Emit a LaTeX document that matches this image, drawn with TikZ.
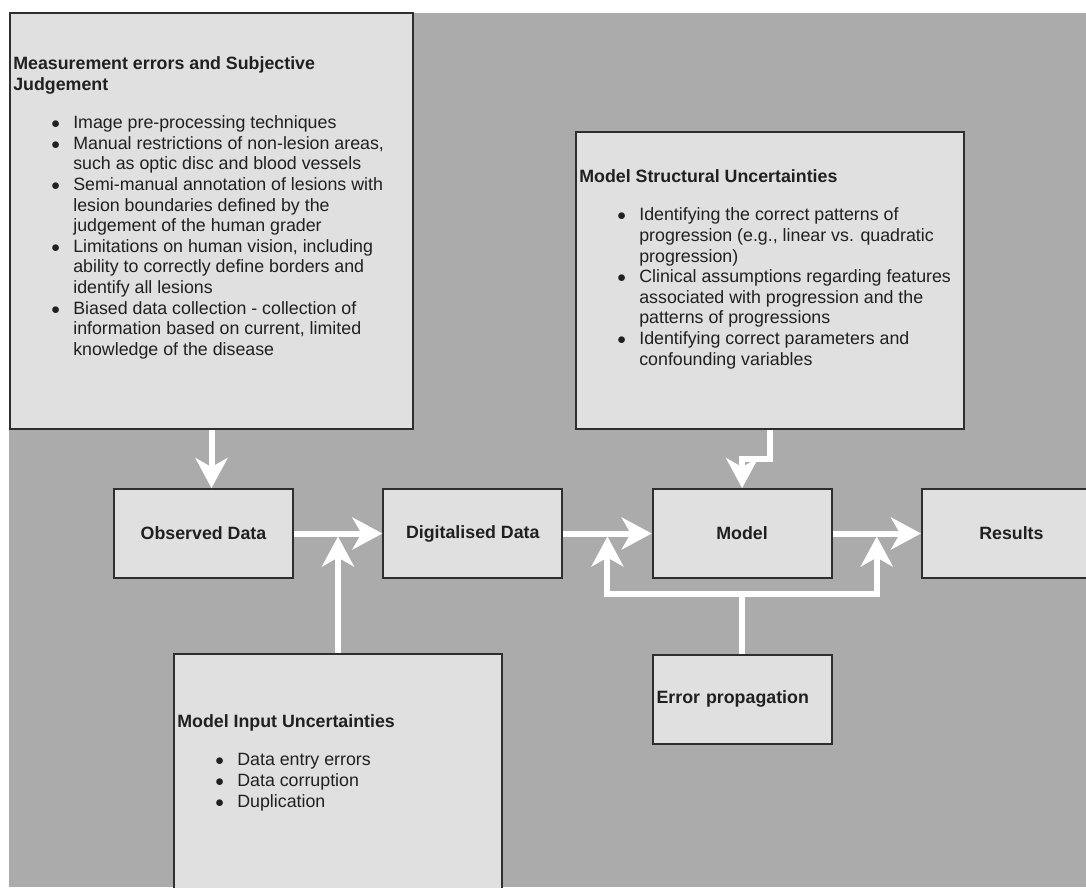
\documentclass[tikz,border=0pt]{standalone}
\usepackage{fontspec}
\setmainfont{Liberation Sans}
\usetikzlibrary{positioning,calc,arrows.meta}
\definecolor{bggray}{HTML}{ABABAB}
\definecolor{boxfill}{HTML}{E0E0E0}
\definecolor{boxline}{HTML}{2E2E2E}
\definecolor{inktext}{HTML}{202020}
\newcommand{\dotmark}{$\bullet$}

\begin{document}
\begin{tikzpicture}[x=1pt, y=1pt, node distance=88.5pt,
      box/.style={rectangle, draw=boxline, fill=boxfill, line width=1.8pt,
                  minimum width=179pt, minimum height=89pt, align=center,
                  text=inktext, font=\fontsize{17.8}{20.6}\selectfont\bfseries},
      panel/.style={rectangle, draw=boxline, fill=boxfill, line width=1.8pt,
                  inner sep=0pt},
      notes/.style={inner sep=0pt, anchor=base west, text=inktext,
                  font=\fontsize{17.8}{20.6}\selectfont},
      flow/.style={draw=white, line width=6pt,
                  -{Stealth[length=30pt, width=32pt, inset=9pt]}}]
    \useasboundingbox (0,0) rectangle (1086,887);
    \clip (0,0) rectangle (1086,887);
    \fill[white] (0,0) rectangle (1086,887);
    \fill[bggray] (9,0) rectangle (1086,874);

    \node[panel, minimum width=403pt, minimum height=416pt] (measbox) at (211.5,666) {};
    \node[panel, minimum width=388pt, minimum height=297pt] (structbox) at (770,606.5) {};
    \node[panel, minimum width=328pt, minimum height=240pt, anchor=north] (inputbox) at (338,234) {};

    \node[box] (obs) at (203.5,353.5) {Observed Data};
    \node[box, right=of obs] (dig) {Digitalised Data};
    \node[box, right=of dig] (model) {Model};
    \node[box, right=of model] (res) {Results};
    \node[box, below=75pt of model, align=left, text width=171pt, inner sep=4pt] (errbox) {Error propagation};

    \node[notes] (meastext) at ($(measbox.north west)+(4,-57.5)$) {%
      \begin{tabular}[t]{@{\hspace{38pt}}p{22pt}@{}l@{}}
        \multicolumn{2}{@{}l@{}}{\bfseries Measurement errors and Subjective}\\
        \multicolumn{2}{@{}l@{}}{\bfseries Judgement}\\[18pt]
        \dotmark & Image pre-processing techniques\\
        \dotmark & Manual restrictions of non-lesion areas,\\
                 & such as optic disc and blood vessels\\
        \dotmark & Semi-manual annotation of lesions with\\
                 & lesion boundaries defined by the\\
                 & judgement of the human grader\\
        \dotmark & Limitations on human vision, including\\
                 & ability to correctly define borders and\\
                 & identify all lesions\\
        \dotmark & Biased data collection - collection of\\
                 & information based on current, limited\\
                 & knowledge of the disease
      \end{tabular}};
    \node[notes] (structtext) at ($(structbox.north west)+(4,-51.3)$) {%
      \begin{tabular}[t]{@{\hspace{38pt}}p{22pt}@{}l@{}}
        \multicolumn{2}{@{}l@{}}{\bfseries Model Structural Uncertainties}\\[18pt]
        \dotmark & Identifying the correct patterns of\\
                 & progression (e.g., linear vs. quadratic\\
                 & progression)\\
        \dotmark & Clinical assumptions regarding features\\
                 & associated with progression and the\\
                 & patterns of progressions\\
        \dotmark & Identifying correct parameters and\\
                 & confounding variables
      \end{tabular}};
    \node[notes] (inputtext) at ($(inputbox.north west)+(4,-74.3)$) {%
      \begin{tabular}[t]{@{\hspace{38pt}}p{22pt}@{}l@{}}
        \multicolumn{2}{@{}l@{}}{\bfseries Model Input Uncertainties}\\[18pt]
        \dotmark & Data entry errors\\
        \dotmark & Data corruption\\
        \dotmark & Duplication
      \end{tabular}};

    \draw[flow] (measbox.south) -- (measbox.south |- obs.north);
    \draw[flow] (obs.east) -- (dig.west);
    \draw[flow, shorten >=3pt] (inputbox.north) -- (inputbox.north |- obs.east);
    \draw[flow] (dig.east) -- (model.west);
    \draw[flow] (structbox.south) -- ++(0,-29) -| (model.north);
    \draw[flow] (model.east) -- (res.west);
    \coordinate (split) at ($(errbox.north)+(0,60)$);
    \coordinate (lefthook) at ($(dig.east)!0.5!(model.west)$);
    \coordinate (righthook) at ($(model.east)!0.5!(res.west)$);
    \draw[flow, shorten >=3pt] (errbox.north) -- (split) -| (lefthook);
    \draw[flow, shorten >=3pt] (split) -| (righthook);
  \end{tikzpicture}
\end{document}
